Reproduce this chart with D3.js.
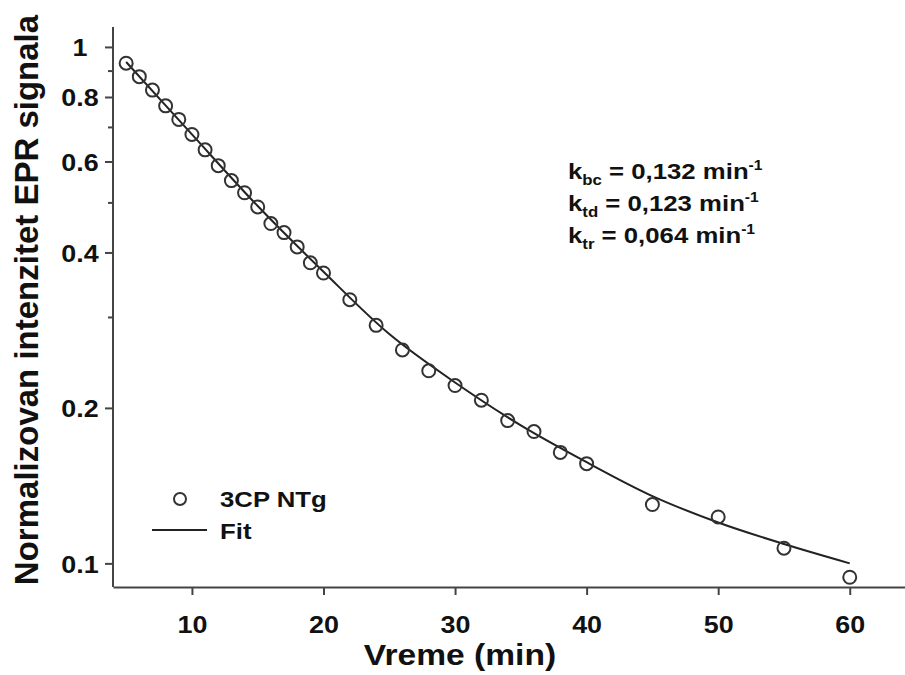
<!DOCTYPE html>
<html>
<head>
<meta charset="utf-8">
<script src="https://cdn.jsdelivr.net/npm/d3@7"></script>
<style>
  body { margin: 0; background: #fff; }
  svg { display: block; font-family: "Liberation Sans", Arial, sans-serif; font-weight: bold; }
</style>
</head>
<body>
<div id="chart"></div>
<script>
// measured points (3CP NTg)
var times = [5, 6, 7, 8, 9, 10, 11, 12, 13, 14, 15, 16, 17, 18, 19, 20,
  22, 24, 26, 28, 30, 32, 34, 36, 38, 40, 45, 50, 55, 60];
var signal = [0.930, 0.876, 0.825, 0.769, 0.724, 0.677, 0.632, 0.589, 0.551, 0.522,
  0.490, 0.455, 0.437, 0.410, 0.382, 0.365, 0.324, 0.289, 0.259, 0.236,
  0.221, 0.207, 0.189, 0.180, 0.164, 0.156, 0.130, 0.123, 0.107, 0.094];

// fit curve
var fitTimes = [5, 10, 15, 20, 25, 30, 35, 40, 45, 50, 55, 60];
var fitValues = [0.935, 0.677, 0.492, 0.367, 0.278, 0.224, 0.185, 0.157, 0.135, 0.120, 0.109, 0.100];

var xTicks = [10, 20, 30, 40, 50, 60];
var yMajor = [0.1, 0.2, 0.4, 0.6, 0.8, 1];
var yMinor = [0.3, 0.5, 0.7, 0.9];

var rates = [
  { name: 'bc', value: '0,132' },
  { name: 'td', value: '0,123' },
  { name: 'tr', value: '0,064' }
];

var width = 905,
  height = 675,
  sx = 1.12; // glyphs in the source are a bit wide

var svg = d3.select('#chart').append('svg')
  .attr('width', width)
  .attr('height', height);

var x = d3.scaleLinear().domain([4, 64.2]).range([113, 905]);
var y = d3.scaleLog().domain([0.09, 1.093]).range([587, 27]);

var axisColor = '#444';

// x axis
var gx = svg.append('g')
  .attr('transform', 'translate(0,587)')
  .call(d3.axisBottom(x).tickValues(xTicks).tickSize(8).tickSizeOuter(0).tickFormat(d3.format('d')));
gx.selectAll('text')
  .attr('y', 0).attr('dy', 0)
  .attr('transform', 'translate(0,46) scale(' + sx + ',1)')
  .style('font-size', '24px');

// y axis, labelled ticks
var gy = svg.append('g')
  .attr('transform', 'translate(113,0)')
  .call(d3.axisLeft(y).tickValues(yMajor).tickSize(8).tickSizeOuter(0).tickFormat(function(d) { return String(d); }));
gy.selectAll('text')
  .attr('x', 0).attr('dy', 0)
  .attr('text-anchor', 'middle')
  .attr('transform', 'translate(-33,9) scale(' + sx + ',1)')
  .style('font-size', '24px');

var gyMinor = svg.append('g')
  .attr('transform', 'translate(113,0)')
  .call(d3.axisLeft(y).tickValues(yMinor).tickSize(5).tickSizeOuter(0).tickFormat(''));

svg.selectAll('.domain').attr('stroke', axisColor).attr('stroke-width', 2);
svg.selectAll('.tick line').attr('stroke', axisColor).attr('stroke-width', 2);
svg.selectAll('.tick text').attr('fill', '#111');
svg.selectAll('g').attr('font-family', null);

// y domain line runs from the top of the plot down to the x axis
gy.select('.domain').attr('d', 'M0,' + y(1.093) + 'V' + y(0.09));
gyMinor.select('.domain').remove();

// fit line
var line = d3.line()
  .x(function(d, i) { return x(fitTimes[i]); })
  .y(function(d) { return y(d); })
  .curve(d3.curveCatmullRom.alpha(0.5));

svg.append('path')
  .datum(fitValues)
  .attr('d', line)
  .attr('fill', 'none')
  .attr('stroke', '#222')
  .attr('stroke-width', 2);

// points
svg.append('g').selectAll('circle')
  .data(signal)
  .enter().append('circle')
  .attr('cx', function(d, i) { return x(times[i]); })
  .attr('cy', function(d) { return y(d); })
  .attr('r', 6.5)
  .attr('fill', 'none')
  .attr('stroke', '#333')
  .attr('stroke-width', 2);

// axis titles
svg.append('text')
  .attr('transform', 'translate(460,665) scale(' + sx + ',1)')
  .attr('text-anchor', 'middle')
  .attr('fill', '#111')
  .style('font-size', '30px')
  .text('Vreme (min)');

svg.append('text')
  .attr('transform', 'translate(38,300) rotate(-90)')
  .attr('text-anchor', 'middle')
  .attr('fill', '#111')
  .style('font-size', '33px')
  .text('Normalizovan intenzitet EPR signala');

// legend
var legend = svg.append('g');
legend.append('circle')
  .attr('cx', 180).attr('cy', 499).attr('r', 6)
  .attr('fill', 'none').attr('stroke', '#333').attr('stroke-width', 2);
legend.append('line')
  .attr('x1', 152).attr('x2', 207).attr('y1', 530).attr('y2', 530)
  .attr('stroke', '#222').attr('stroke-width', 2);
legend.append('text')
  .attr('transform', 'translate(220,507) scale(' + sx + ',1)')
  .attr('fill', '#111').style('font-size', '23px')
  .text('3CP NTg');
legend.append('text')
  .attr('transform', 'translate(220,539) scale(' + sx + ',1)')
  .attr('fill', '#111').style('font-size', '23px')
  .text('Fit');

// rate constants
rates.forEach(function(r, i) {
  var t = svg.append('text')
    .attr('transform', 'translate(568,' + (179 + i * 32) + ') scale(' + sx + ',1)')
    .attr('fill', '#111')
    .style('font-size', '23px');
  t.append('tspan').text('k');
  t.append('tspan').attr('dy', 6).style('font-size', '15px').text(r.name);
  t.append('tspan').attr('dy', -6).text(' = ' + r.value + ' min');
  t.append('tspan').attr('dy', -9).style('font-size', '14px').text('-1');
});
</script>
</body>
</html>
